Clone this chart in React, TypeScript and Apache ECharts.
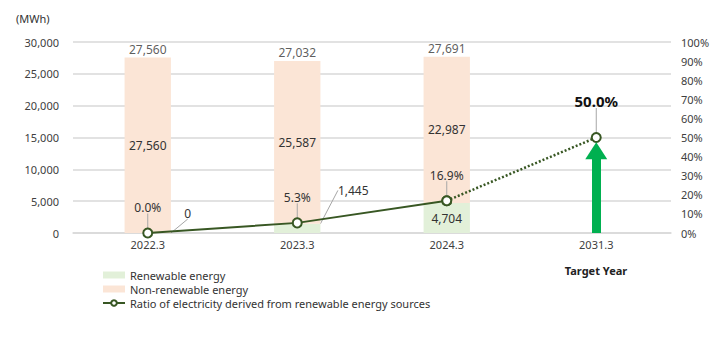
import React, { useEffect, useRef } from "react";
import * as echarts from "echarts";

const categories = ["2022.3", "2023.3", "2024.3", "2031.3"];
const renewable: (number | null)[] = [0, 1445, 4704, null];
const nonRenewable: (number | null)[] = [27560, 25587, 22987, null];
const totals: (number | null)[] = [27560, 27032, 27691, null];
const ratioActual: (number | null)[] = [0.0, 5.3, 16.9, null];
const ratioTarget: (number | null)[] = [null, null, 16.9, 50.0];
const leftTicks = { min: 0, max: 30000, interval: 5000 };
const rightTicks = { min: 0, max: 100, interval: 10 };

const NAME_REN = "Renewable energy";
const NAME_NON = "Non-renewable energy";
const NAME_RATIO = "Ratio of electricity derived from renewable energy sources";

const FONT = "'Noto Sans', sans-serif";
const fmt = (v: number) => v.toLocaleString("en-US");

export default function App() {
  const ref = useRef<HTMLDivElement>(null);
  useEffect(() => {
    document.body.style.margin = "0";
    if (!ref.current) return;
    const chart = echarts.init(ref.current, null, { renderer: "svg" });
    const renOffsets: Record<number, [number, number]> = { 0: [40, -20], 1: [56, -38] };
    const option: any = {
      animation: false,
      textStyle: { fontFamily: FONT },
      grid: { left: 73, right: 48, top: 42, bottom: 104 },
      legend: {
        orient: "vertical",
        left: 97,
        top: 264,
        padding: 5,
        itemWidth: 22,
        itemHeight: 7,
        itemGap: 2,
        textStyle: { fontSize: 11, lineHeight: 12, color: "#333", fontFamily: FONT },
        data: [
          { name: NAME_REN, icon: "rect" },
          { name: NAME_NON, icon: "rect" },
          { name: NAME_RATIO },
        ],
      },
      graphic: [
        {
          type: "text",
          left: 16,
          top: 13,
          style: { text: "(MWh)", fontSize: 11, fill: "#333", fontFamily: FONT },
        },
        {
          type: "text",
          x: 596,
          y: 270,
          style: {
            text: "Target Year",
            fontSize: 11,
            fontWeight: "bold",
            fill: "#222",
            align: "center",
            verticalAlign: "middle",
            fontFamily: FONT,
          },
        },
      ],
      xAxis: {
        type: "category",
        data: categories,
        axisLine: { lineStyle: { color: "#d9d9d9", width: 1.5 } },
        axisTick: { show: false },
        axisLabel: { color: "#404040", fontSize: 11, margin: 6, fontFamily: FONT },
      },
      yAxis: [
        {
          type: "value",
          ...leftTicks,
          axisLine: { show: false },
          axisTick: { show: false },
          splitLine: { lineStyle: { color: "#d9d9d9", width: 1.5 } },
          axisLabel: { color: "#404040", fontSize: 11, margin: 14, formatter: (v: number) => fmt(v), fontFamily: FONT },
        },
        {
          type: "value",
          position: "right",
          ...rightTicks,
          axisLine: { show: false },
          axisTick: { show: false },
          splitLine: { show: false },
          axisLabel: { color: "#404040", fontSize: 11, margin: 10, formatter: "{value}%", fontFamily: FONT },
        },
      ],
      series: [
        {
          name: NAME_REN,
          type: "bar",
          stack: "e",
          barWidth: "31%",
          itemStyle: { color: "#E2F0D9" },
          data: renewable,
          label: {
            show: true,
            position: "inside",
            color: "#333",
            fontSize: 12,
            fontFamily: FONT,
            formatter: (p: any) => fmt(p.value),
          },
          labelLine: { show: true, lineStyle: { color: "#a6a6a6", width: 1 } },
          labelLayout: (p: any) => {
            const o = renOffsets[p.dataIndex];
            return o ? { dx: o[0], dy: o[1] } : {};
          },
        },
        {
          name: NAME_NON,
          type: "bar",
          stack: "e",
          barWidth: "31%",
          itemStyle: { color: "#FBE5D6" },
          data: nonRenewable,
          label: {
            show: true,
            position: "inside",
            color: "#333",
            fontSize: 12,
            fontFamily: FONT,
            formatter: (p: any) => fmt(p.value),
          },
        },
        {
          name: "total",
          type: "scatter",
          data: totals,
          symbolSize: 0,
          silent: true,
          label: {
            show: true,
            position: "top",
            distance: 2,
            color: "#333",
            fontSize: 12,
            fontFamily: FONT,
            formatter: (p: any) => fmt(p.value),
          },
        },
        {
          name: NAME_RATIO,
          type: "line",
          yAxisIndex: 1,
          data: ratioActual,
          z: 5,
          color: "#385723",
          lineStyle: { color: "#385723", width: 2 },
          symbol: "emptyCircle",
          symbolSize: 9,
          itemStyle: { color: "#385723", borderWidth: 2 },
          label: {
            show: true,
            position: "top",
            distance: 5,
            color: "#333",
            fontSize: 12,
            fontFamily: FONT,
            formatter: (p: any) => p.value.toFixed(1) + "%",
          },
          labelLine: { show: true, lineStyle: { color: "#a6a6a6", width: 1 } },
          labelLayout: { dy: -9 },
        },
        {
          name: "target",
          type: "line",
          yAxisIndex: 1,
          z: 4,
          data: ratioTarget.map((v, i) =>
            i === ratioTarget.length - 1
              ? {
                  value: v,
                  label: {
                    show: true,
                    position: "top",
                    distance: 5,
                    color: "#111",
                    fontSize: 15,
                    fontWeight: "bold",
                    fontFamily: FONT,
                    formatter: (p: any) => p.value.toFixed(1) + "%",
                  },
                  labelLine: { show: true, lineStyle: { color: "#a6a6a6", width: 1 } },
                }
              : v
          ),
          lineStyle: { color: "#385723", width: 2.5, type: [2, 2] },
          symbol: "emptyCircle",
          symbolSize: 9,
          itemStyle: { color: "#385723", borderWidth: 2 },
          labelLayout: (p: any) => (p.dataIndex === ratioTarget.length - 1 ? { dy: -19 } : {}),
          markLine: {
            silent: true,
            symbol: ["none", "triangle"],
            symbolSize: [22, 17],
            symbolOffset: [0, 0],
            label: { show: false },
            lineStyle: { color: "#00B050", width: 9, type: "solid" },
            data: [
              [
                { coord: [categories[3], 0] },
                { coord: [categories[3], 43] },
              ],
            ],
          },
        },
      ],
    };
    chart.setOption(option);
    return () => chart.dispose();
  }, []);
  return <div ref={ref} style={{ width: 719, height: 337 }} />;
}
